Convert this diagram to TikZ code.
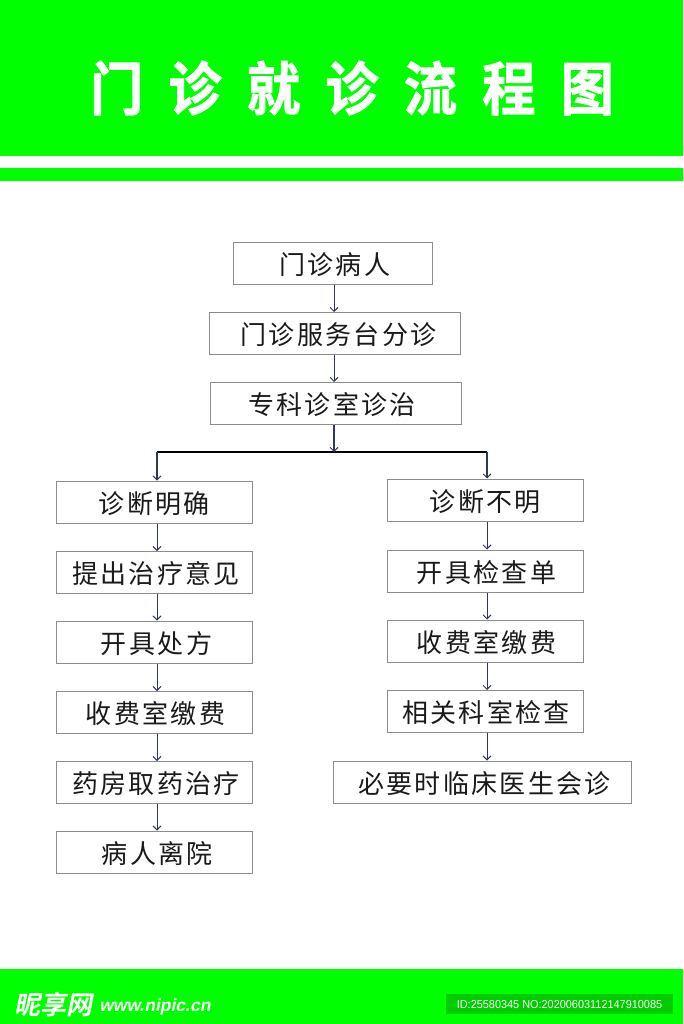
\documentclass[tikz,border=0pt]{standalone}
\usepackage{fontspec}
\usepackage{graphicx}
\setmainfont{Liberation Sans}
\newfontfamily\cjk[LetterSpace=9]{Noto Sans CJK SC}
\newfontfamily\cjktitle[LetterSpace=47,FakeBold=1.5]{Noto Sans CJK SC Bold}
\newfontfamily\wmfont{Noto Sans CJK SC Bold}
\definecolor{bandgreen}{HTML}{00FF00}
\definecolor{idgreen}{HTML}{00CC00}
\definecolor{arrowblue}{HTML}{2F3855}
\definecolor{boxgray}{HTML}{8C8C8C}
\definecolor{inktext}{HTML}{1A1A1A}
\usetikzlibrary{arrows.meta}
\tikzset{
  stepbox/.style={draw=boxgray,line width=1pt,fill=white,inner sep=0pt,text=inktext,text height=26.8pt,text depth=4pt,font=\fontsize{26}{28}\cjk},
  flow/.style={draw=arrowblue,line width=0.9pt,-{Straight Barb[length=4pt,width=8pt,line width=0.9pt]}},
  stem/.style={flow,line width=1.2pt},
  branch/.style={draw=black,line width=1.2pt}
}
\begin{document}
\begin{tikzpicture}[x=1pt,y=-1pt]
\useasboundingbox (0,0) rectangle (683,1024);
\fill[white] (0,0) rectangle (683,1024);
\fill[bandgreen] (0,0) rectangle (683,156);
\fill[bandgreen] (0,168) rectangle (683,181.5);
\fill[bandgreen] (0,969) rectangle (683,1024);
\node[text=white,inner sep=0pt,font=\fontsize{58}{64}\cjktitle] (title) at (352,88) {\scalebox{0.92}[1]{门诊就诊流程图}};
% column axes
\coordinate (cx) at (334,0);
\coordinate (lx) at (157,0);
\coordinate (rx) at (487,0);
\coordinate (by) at (0,452);
% top boxes
\node[stepbox,minimum width=199pt,minimum height=42pt] (t1) at (333,263.5) {\hspace{3.5pt}门诊病人};
\node[stepbox,minimum width=251pt,minimum height=42pt] (t2) at (335,333.5) {\hspace{7pt}门诊服务台分诊};
\node[stepbox,minimum width=251pt,minimum height=42pt] (t3) at (336,403.5) {\hspace{-8pt}专科诊室诊治};
% left column
\node[stepbox,minimum width=196pt,minimum height=42pt] (l1) at (154.5,502) {诊断明确};
\node[stepbox,minimum width=196pt,minimum height=42pt] (l2) at (154.5,572.5) {\hspace{3pt}提出治疗意见};
\node[stepbox,minimum width=196pt,minimum height=42pt] (l3) at (154.5,642) {\hspace{4pt}开具处方};
\node[stepbox,minimum width=196pt,minimum height=42pt] (l4) at (154.5,712.5) {\hspace{2pt}收费室缴费};
\node[stepbox,minimum width=196pt,minimum height=42pt] (l5) at (154.5,782.5) {\hspace{3pt}药房取药治疗};
\node[stepbox,minimum width=196pt,minimum height=42pt] (l6) at (154.5,852) {\hspace{6pt}病人离院};
% right column
\node[stepbox,minimum width=196pt,minimum height=42pt] (r1) at (485.5,500) {诊断不明};
\node[stepbox,minimum width=196pt,minimum height=42pt] (r2) at (485.5,571) {\hspace{2pt}开具检查单};
\node[stepbox,minimum width=196pt,minimum height=42pt] (r3) at (485.5,641) {\hspace{2pt}收费室缴费};
\node[stepbox,minimum width=196pt,minimum height=42pt] (r4) at (485.5,711.5) {\hspace{1pt}相关科室检查};
\node[stepbox,minimum width=298pt,minimum height=42pt] (r5) at (482.5,782) {\hspace{4pt}必要时临床医生会诊};
% connectors
\draw[flow] (t1.south -| cx) -- (t2.north -| cx);
\draw[flow] (t2.south -| cx) -- (t3.north -| cx);
\draw[branch] (by -| lx) -- (by -| rx);
\draw[stem] (t3.south -| cx) -- (by -| cx);
\draw[stem] (by -| lx) -- (l1.north -| lx);
\draw[stem] (by -| rx) -- (r1.north -| rx);
\foreach \a/\b in {l1/l2,l2/l3,l3/l4,l4/l5,l5/l6}
  \draw[flow] (\a.south -| lx) -- (\b.north -| lx);
\foreach \a/\b in {r1/r2,r2/r3,r3/r4,r4/r5}
  \draw[flow] (\a.south -| rx) -- (\b.north -| rx);
% footer
\node[text=white,anchor=west,inner sep=0pt,xslant=0.2,font=\fontsize{26}{28}\wmfont] (wm1) at (16,1005) {昵享网};
\node[text=white,anchor=west,inner sep=0pt,xslant=0.2,font=\fontsize{17.5}{18}\bfseries] (wm2) at (100,1006.5) {www.nipic.cn};
\node[fill=idgreen,text=white,minimum width=227pt,minimum height=20pt,inner sep=0pt,font=\fontsize{11.6}{13}\selectfont] (idbox) at (559.5,1004) {\scalebox{0.94}[1]{ID:25580345 NO:20200603112147910085}};
\end{tikzpicture}
\end{document}
